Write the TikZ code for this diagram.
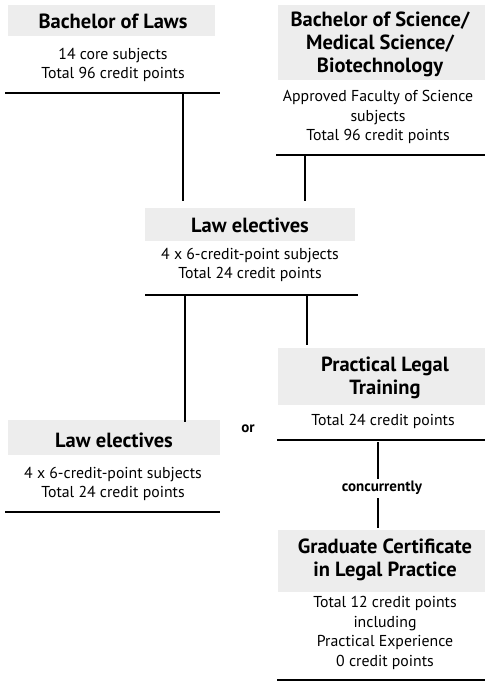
\documentclass[tikz,border=0pt]{standalone}
\usepackage{fontspec}
\setmainfont{PT Sans}
\begin{document}
\begin{tikzpicture}[x=1pt,y=-1pt,
  titlebg/.style={fill=black!7},
  ttl/.style={font=\bfseries\fontsize{20.5}{23}\selectfont,align=center,inner sep=0pt},
  body/.style={font=\fontsize{15.8}{19.7}\selectfont,align=center,inner sep=0pt},
  rule/.style={line width=1.1pt},
  conn/.style={line width=1.1pt}]
\useasboundingbox (0,0) rectangle (485,682);
% title backgrounds
\fill[titlebg] (8,5) rectangle (215,36);
\fill[titlebg] (278,5) rectangle (485,80);
\fill[titlebg] (145,208) rectangle (355,241);
\fill[titlebg] (8,420) rectangle (220,455);
\fill[titlebg] (278,348) rectangle (485,405);
\fill[titlebg] (278,530) rectangle (485,592);
% block 1
\node[ttl] (t1) at (113,21) {Bachelor of Laws};
\node[body] (b1) at (113,65) {14 core subjects\\Total 96 credit points};
\coordinate (r1) at (183,93);
\draw[rule] (5,93) -- (220,93);
% block 2
\node[ttl] (t2) at (380,44) {Bachelor of Science/\\Medical Science/\\Biotechnology};
\node[body] (b2) at (378,117) {Approved Faculty of Science\\subjects\\Total 96 credit points};
\coordinate (r2) at (305,155);
\draw[rule] (276,155) -- (485,155);
% block 3
\node[ttl] (t3) at (250,225) {Law electives};
\node[body] (b3) at (250,265) {4 x 6-credit-point subjects\\Total 24 credit points};
\draw[rule] (145,295) -- (358,295);
\coordinate (r3l) at (185,295);
\coordinate (r3r) at (307,295);
\coordinate (t3l) at (183,201);
\coordinate (t3r) at (305,201);
\draw[conn] (r1) -- (t3l);
\draw[conn] (r2) -- (t3r);
% block 4
\node[ttl] (t4) at (114,440) {Law electives};
\node[body] (b4) at (113,484) {4 x 6-credit-point subjects\\Total 24 credit points};
\draw[rule] (5,512) -- (220,512);
\coordinate (t4c) at (185,422);
\draw[conn] (r3l) -- (t4c);
\node[font=\bfseries\fontsize{15}{17}\selectfont,inner sep=0pt] (or) at (248,429) {or};
% block 5
\node[ttl] (t5) at (385,378) {Practical Legal\\Training};
\node[body] (b5) at (383,421) {Total 24 credit points};
\draw[rule] (277,440) -- (485,440);
\coordinate (t5c) at (307,345);
\draw[conn] (r3r) -- (t5c);
\coordinate (r5) at (378,442);
\node[font=\bfseries\fontsize{15}{17}\selectfont,inner sep=0pt] (cc) at (382,488) {concurrently};
\draw[conn] (r5) -- (378,479);
\coordinate (t6c) at (378,528);
\draw[conn] (378,498) -- (t6c);
% block 6
\node[ttl] (t6) at (385,560) {Graduate Certificate\\in Legal Practice};
\node[body] (b6) at (385,633) {Total 12 credit points\\including\\Practical Experience\\0 credit points};
\draw[rule] (277,680) -- (485,680);
\end{tikzpicture}
\end{document}
